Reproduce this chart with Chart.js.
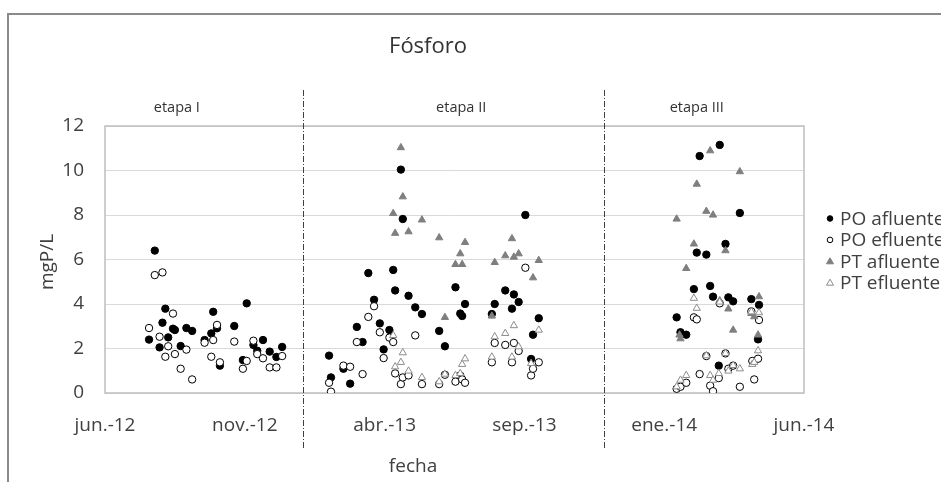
<!DOCTYPE html>
<html><head><meta charset="utf-8">
<script src="https://cdn.jsdelivr.net/npm/chart.js@4.4.1/dist/chart.umd.min.js"></script>
<style>html,body{margin:0;padding:0;background:#fff;overflow:hidden}#wrap{width:941px;height:482px}</style>
</head><body><div id="wrap"><canvas id="c" width="941" height="482"></canvas></div>
<script>
// ---- datos ----
const titulo = 'Fósforo';
const tituloX = 'fecha';
const tituloY = 'mgP/L';
const etiquetasX = ['jun.-12','nov.-12','abr.-13','sep.-13','ene.-14','jun.-14'];
const pasoDias = 146;            // días entre etiquetas del eje X
const etiquetasY = [0, 2, 4, 6, 8, 10, 12];
const etapas = ['etapa I','etapa II','etapa III'];
const limitesEtapa = [207, 521];        // días en que cambia la etapa
const posEtiquetaEtapa = [75, 372, 618]; // día sobre el que se centra el rótulo
const nombresSeries = ['PO afluente','PO efluente','PT afluente','PT efluente'];

// días desde el inicio del eje (jun.-12)
const dias = [46,52,57,60,63,66,71,73,79,85,91,104,111,113,117,120,135,144,148,155,159,165,172,179,185,
  234,236,249,256,263,269,275,281,287,291,297,301,303,309,311,317,324,331,349,355,366,371,373,376,404,407,418,425,427,432,439,445,447,453,
  597,600,601,607,615,618,621,628,632,635,641,642,648,651,656,663,675,676,678,682,683];
const poAfluente = [2.40,6.40,2.05,3.16,3.79,2.50,2.89,2.83,2.11,2.92,2.79,2.38,2.68,3.65,2.91,1.23,3.01,1.48,4.03,2.16,1.90,2.38,1.86,1.62,2.07,
  1.68,0.70,1.09,0.42,2.97,2.29,5.39,4.19,3.13,1.96,2.83,5.53,4.61,10.04,7.82,4.37,3.85,3.55,2.79,2.10,4.75,3.57,3.46,4.00,3.55,4.00,4.61,3.79,4.43,4.09,8.00,1.53,2.62,3.36,
  3.40,null,2.73,2.62,4.67,6.31,10.65,6.22,4.81,4.33,1.23,11.15,6.70,4.30,4.12,8.09,4.22,null,null,2.41,3.96];
const poEfluente = [2.92,5.30,2.53,5.42,1.63,2.10,3.57,1.75,1.09,1.95,0.61,2.26,1.63,2.38,3.06,1.38,2.31,1.09,1.44,2.35,1.75,1.56,1.15,1.15,1.66,
  0.46,0.06,1.23,1.18,2.29,0.85,3.42,3.90,2.73,1.57,2.49,2.29,0.88,0.40,0.70,0.79,2.59,0.40,0.40,0.82,0.51,0.79,0.61,0.46,1.38,2.25,2.16,1.38,2.25,1.89,5.63,0.79,1.09,1.38,
  0.19,null,0.28,0.46,3.40,3.31,0.85,1.66,0.33,0.08,0.67,4.03,1.78,1.09,1.23,0.28,3.67,1.44,0.61,1.54,3.28];
const ptAfluente = [null,null,null,null,null,null,null,null,null,null,null,null,null,null,null,null,null,null,null,null,null,null,null,null,null,
  null,null,null,null,null,null,null,null,null,null,null,8.07,7.18,11.03,8.82,7.25,null,7.78,6.98,3.40,5.78,6.26,5.78,6.77,3.46,5.87,6.17,6.94,6.11,6.26,null,null,5.18,5.96,
  7.82,2.61,2.44,5.60,6.70,9.39,null,8.17,10.89,8.00,null,4.15,6.40,3.78,2.83,9.95,3.58,null,3.43,2.61,4.33];
const ptEfluente = [null,null,null,null,null,null,null,null,null,null,null,null,null,null,null,null,null,null,null,null,null,null,null,null,null,
  null,null,null,null,null,null,null,null,null,null,null,2.59,1.18,1.38,1.81,0.99,null,0.70,0.51,0.85,0.79,0.88,1.29,1.54,1.62,2.53,2.68,1.62,3.03,2.08,null,1.33,null,2.83,
  0.28,null,0.58,0.79,4.26,3.81,null,1.68,0.79,0.58,0.88,4.09,1.78,0.99,1.24,1.09,3.65,1.29,1.38,1.90,3.61];

// ---- estilos ----
const FUENTE = '"Open Sans", "Noto Sans", sans-serif';
const COLOR_TEXTO = '#404040';
const estilos = [
  {pointStyle:'circle',   bg:'#000000', bd:'#000000', r:3.7},
  {pointStyle:'circle',   bg:'#ffffff', bd:'#000000', r:3.7},
  {pointStyle:'triangle', bg:'#7f7f7f', bd:'#7f7f7f', r:4.2},
  {pointStyle:'triangle', bg:'#ffffff', bd:'#8c8c8c', r:4.2}
];
const series = [poAfluente, poEfluente, ptAfluente, ptEfluente];

const datasets = series.map((vals, i) => ({
  label: nombresSeries[i],
  data: dias.map((d, k) => ({x: d, y: vals[k]})).filter(p => p.y !== null),
  showLine: false,
  pointStyle: estilos[i].pointStyle,
  pointRadius: estilos[i].r,
  pointBackgroundColor: estilos[i].bg,
  pointBorderColor: estilos[i].bd,
  pointBorderWidth: 1,
  order: 3 - i
}));

const decoracion = {
  id: 'decoracion',
  beforeDatasetsDraw(chart) {
    const {ctx, chartArea: a} = chart;
    ctx.save();
    ctx.strokeStyle = '#bfbfbf';
    ctx.lineWidth = 1.5;
    ctx.strokeRect(a.left, a.top, a.right - a.left, a.bottom - a.top);
    ctx.restore();
  },
  afterDraw(chart) {
    const {ctx, scales: {x}} = chart;
    ctx.save();
    // marco exterior
    ctx.strokeStyle = '#8a8a8a';
    ctx.lineWidth = 2;
    ctx.strokeRect(8, 14, 1000, 1000);
    // título
    ctx.fillStyle = '#333333';
    ctx.textAlign = 'center';
    ctx.textBaseline = 'middle';
    ctx.font = '22px ' + FUENTE;
    ctx.fillText(titulo, 428, 47);
    // títulos de ejes
    ctx.fillStyle = COLOR_TEXTO;
    ctx.font = '19px ' + FUENTE;
    ctx.fillText(tituloX, 413, 467);
    ctx.save();
    ctx.translate(48, 262);
    ctx.rotate(-Math.PI / 2);
    ctx.fillText(tituloY, 0, 0);
    ctx.restore();
    // separadores de etapa
    ctx.strokeStyle = '#404040';
    ctx.lineWidth = 1;
    ctx.setLineDash([6, 2, 1, 2]);
    limitesEtapa.forEach(d => {
      const px = Math.round(x.getPixelForValue(d)) + 0.5;
      ctx.beginPath(); ctx.moveTo(px, 90); ctx.lineTo(px, 448); ctx.stroke();
    });
    ctx.setLineDash([]);
    // rótulos de etapa
    ctx.fillStyle = '#333333';
    ctx.font = '14.5px ' + FUENTE;
    etapas.forEach((t, i) => ctx.fillText(t, x.getPixelForValue(posEtiquetaEtapa[i]), 108));
    // leyenda
    ctx.textAlign = 'left';
    ctx.font = '19px ' + FUENTE;
    nombresSeries.forEach((n, i) => {
      const y = 218.5 + i * 21.4;
      const e = estilos[i];
      ctx.fillStyle = e.bg; ctx.strokeStyle = e.bd; ctx.lineWidth = 1;
      ctx.beginPath();
      if (e.pointStyle === 'circle') { ctx.arc(830, y, 2.8, 0, Math.PI * 2); }
      else { ctx.moveTo(830, y - 3.5); ctx.lineTo(833.5, y + 2.5); ctx.lineTo(826.5, y + 2.5); ctx.closePath(); }
      ctx.fill(); ctx.stroke();
      ctx.fillStyle = COLOR_TEXTO;
      ctx.fillText(n, 840, y + 1);
    });
    ctx.restore();
  }
};

new Chart(document.getElementById('c'), {
  type: 'scatter',
  data: {datasets},
  plugins: [decoracion],
  options: {
    responsive: false,
    animation: false,
    devicePixelRatio: 1,
    layout: {padding: {left: 0, right: 137, top: 126, bottom: 0}},
    plugins: {legend: {display: false}, title: {display: false}, tooltip: {enabled: false}},
    scales: {
      x: {
        type: 'linear', min: 0, max: pasoDias * (etiquetasX.length - 1),
        afterFit(s) { s.height = 89; },
        afterBuildTicks(s) { s.ticks = etiquetasX.map((_, i) => ({value: i * pasoDias})); },
        ticks: {
          autoSkip: false, maxRotation: 0, padding: 21,
          color: COLOR_TEXTO, font: {family: FUENTE, size: 19},
          callback: (v) => etiquetasX[Math.round(v / pasoDias)]
        },
        grid: {display: false, drawTicks: false},
        border: {display: false}
      },
      y: {
        min: 0, max: 12,
        afterFit(s) { s.width = 105; },
        afterBuildTicks(s) { s.ticks = etiquetasY.map(v => ({value: v})); },
        ticks: {padding: 21, color: COLOR_TEXTO, font: {family: FUENTE, size: 19}},
        grid: {color: '#d9d9d9', lineWidth: 1, drawTicks: false},
        border: {display: false}
      }
    }
  }
});
</script></body></html>
